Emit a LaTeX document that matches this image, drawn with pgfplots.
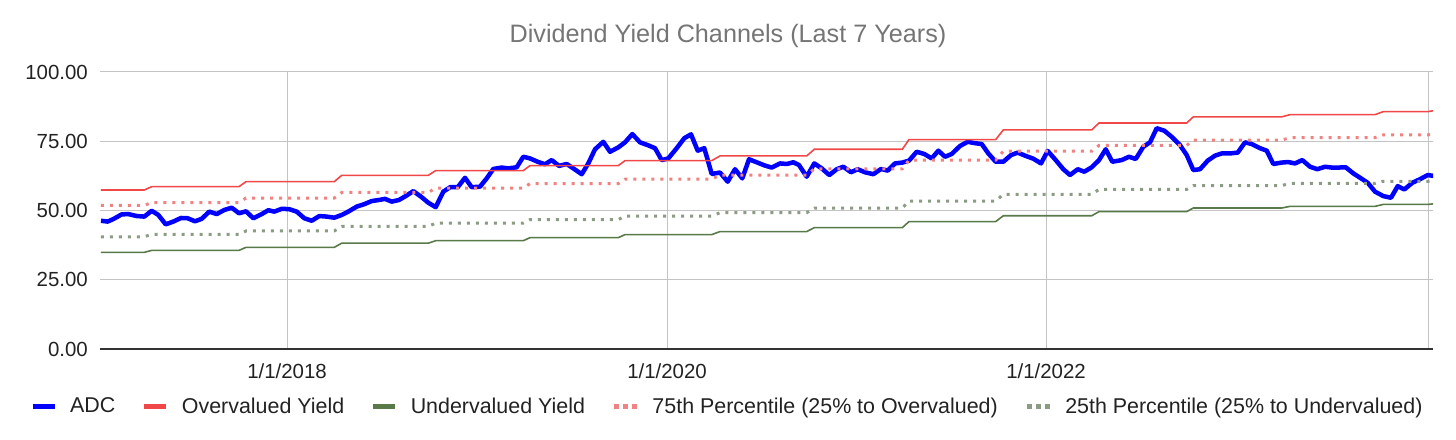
\documentclass[border=0pt]{standalone}
\usepackage{pgfplots}
\pgfplotsset{compat=1.18}
\usepackage{pgfplotstable}
\usepackage{fontspec}
\setmainfont{Liberation Sans}
\definecolor{adcblue}{HTML}{0000FF}
\definecolor{overred}{HTML}{F04848}
\definecolor{pinkred}{HTML}{F08282}
\definecolor{undergreen}{HTML}{587A48}
\definecolor{greengray}{HTML}{8C9C84}
\definecolor{gridgray}{HTML}{C4C4C4}
\definecolor{axisdark}{HTML}{333333}
\definecolor{textdark}{HTML}{222222}
\definecolor{titlegray}{HTML}{757575}

\pgfplotstableread{
px v
101 46.3
107.7 46.0
113.3 46.9
121.7 48.6
128.3 48.7
136.7 48.0
144.3 47.8
151.7 49.9
158.3 48.4
165.7 45.0
173.3 46.0
181 47.3
187.7 47.2
195 46.1
201.7 47.0
209.3 49.6
216.7 48.7
224.3 50.2
231.7 51.0
239 49.0
246 49.7
253.3 47.2
261.7 48.7
268.3 50.1
274.3 49.6
281.7 50.6
289 50.5
296.7 49.6
304.3 47.2
311.7 46.3
319.3 48.0
326.7 47.8
334.3 47.4
341.7 48.4
348.3 49.6
356.7 51.4
364.3 52.3
371.7 53.4
379 53.8
385 54.2
391.7 53.2
399 53.8
405.7 55.2
413.3 57.0
421 55.0
428.3 52.8
435.7 51.2
443.3 56.8
450 58.4
457.7 58.4
465 61.8
471.7 58.4
480 58.6
486.7 61.6
493.3 65.0
501.7 65.5
508.3 65.2
516.7 65.6
523.3 69.4
530 68.8
538.3 67.5
545 66.7
551.7 68.2
559 66.1
566.7 66.8
573.3 65.2
581.7 63.1
588.3 67.0
595 72.1
603.3 74.8
610 71.2
618.3 72.8
625 74.6
632.3 77.6
640 74.6
647.7 73.6
655 72.5
661.7 68.2
668.3 68.8
676.7 72.5
684.3 76.1
691 77.5
697.7 71.6
704.3 72.5
711.7 63.2
720 63.7
727.7 60.4
735 64.9
742.3 61.6
749 68.5
756.7 67.4
764.3 66.3
771.7 65.5
780 67.0
786.7 66.8
793.3 67.4
799 66.4
806.7 62.2
814.3 67.0
821.7 65.2
829.3 62.8
836.7 64.9
843.3 65.8
851 63.8
857.7 64.9
865 63.8
873.3 63.1
881 65.0
887.7 64.4
895 67.0
902.3 67.3
909 68.0
916.7 71.2
924.3 70.4
931.7 68.8
938.3 71.6
945 69.4
951.7 70.4
960 73.3
967.7 74.8
975 74.3
981.7 74.0
988.3 70.6
995.7 67.6
1003.3 67.6
1011 70.0
1017.7 70.9
1025.7 69.7
1033.3 68.7
1041 67.0
1047.7 71.5
1055.7 68.2
1063.3 64.9
1070 62.8
1077.7 64.9
1084.3 64.0
1091.7 65.6
1099 68.2
1105.7 72.1
1112.3 67.6
1121.7 68.2
1129 69.4
1135.7 68.6
1143.3 73.0
1150 74.6
1156.7 79.7
1164.3 78.8
1171.7 76.6
1180 73.6
1186.7 70.0
1193.3 64.6
1200 64.9
1207.7 68.0
1215 69.8
1221.7 70.6
1230 70.6
1237.7 70.9
1245 74.6
1251.7 74.0
1260 72.5
1266.7 71.6
1273.3 66.8
1281.7 67.3
1288 67.5
1295 67.0
1302.3 68.2
1310 65.8
1317.3 64.9
1325 65.8
1331.7 65.5
1338.3 65.5
1345.7 65.6
1353.3 63.4
1361 61.6
1367.7 60.0
1375 56.8
1383.3 55.2
1391 54.6
1397.7 58.8
1404.3 57.6
1412.3 60.0
1420 61.3
1427.7 62.8
1433.3 62.5
}\adcdata

\begin{document}
\begin{tikzpicture}
\path[use as bounding box] (-100bp,-91bp) rectangle (1356bp,349bp);
\begin{axis}[
  at={(0,0)}, anchor=south west,
  scale only axis, width=1333bp, height=277bp,
  xmin=100, xmax=1433, ymin=0, ymax=100,
  xtick={287,667,1046,1428},
  xticklabels={1/1/2018,1/1/2020,1/1/2022,{}},
  ytick={0,25,50,75,100},
  grid=major,
  grid style={draw=gridgray, line width=1bp},
  major tick length=0pt,
  tick style={draw=none},
  axis x line*=bottom, axis y line*=left,
  x axis line style={draw=axisdark, line width=2bp, -},
  y axis line style={draw=none, -},
  /pgf/number format/assume math mode=true,
  /pgf/number format/fixed,
  /pgf/number format/fixed zerofill,
  /pgf/number format/precision=2,
  scaled y ticks=false,
  ticklabel style={font=\fontsize{20.5}{24}\selectfont, text=textdark},
  yticklabel style={inner sep=0pt, anchor=east, xshift=-12bp},
  xticklabel style={inner sep=0pt, anchor=north, yshift=-14bp},
  title={Dividend Yield Channels (Last 7 Years)},
  title style={at={(axis description cs:0.4711,1.108)}, anchor=center,
    font=\fontsize{25.3}{29}\selectfont, text=titlegray, inner sep=0pt},
  legend columns=5,
  legend cell align=left,
  legend style={at={(axis description cs:-0.0525,-0.2058)}, anchor=west,
    draw=none, fill=none, inner sep=0pt,
    font=\fontsize{21.5}{25}\selectfont, text=textdark,
    nodes={inner sep=0pt},
    /tikz/every odd column/.append style={column sep=13bp},
    /tikz/every even column/.append style={column sep=26.5bp}},
]
\addplot[adcblue, line width=4.5bp, line join=round,
  legend image code/.code={\draw[adcblue, line width=5bp] (0bp,0bp) -- (22bp,0bp);}]
  table[x=px, y=v]{\adcdata};
\addlegendentry{ADC}

\addplot[overred, line width=1.6bp,
  legend image code/.code={\draw[overred, line width=5bp] (0bp,0bp) -- (22bp,0bp);}]
  coordinates {(101,57.4)(144.3,57.4)(151.7,58.6)(239,58.6)(246,60.4)(334.3,60.4)(341.7,62.7)(428.3,62.7)(435.7,64.4)(523.3,64.4)(530,66.2)(618.3,66.2)(625,68.0)(711.7,68.0)(720,69.7)(806.7,69.7)(814.3,72.1)(902.3,72.1)(909,75.6)(995.7,75.6)(1003.3,79.1)(1091.7,79.1)(1099,81.6)(1186.7,81.6)(1193.3,83.8)(1281.7,83.8)(1290,84.6)(1375,84.6)(1383.3,85.7)(1427.7,85.7)(1433.3,86.0)};
\addlegendentry{Overvalued Yield}

\addplot[undergreen, line width=1.6bp,
  legend image code/.code={\draw[undergreen, line width=5bp] (0bp,0bp) -- (22bp,0bp);}]
  coordinates {(101,34.9)(144.3,34.9)(151.7,35.6)(239,35.6)(246,36.7)(334.3,36.7)(341.7,38.2)(428.3,38.2)(435.7,39.1)(523.3,39.1)(530,40.2)(618.3,40.2)(625,41.3)(711.7,41.3)(720,42.4)(806.7,42.4)(814.3,43.8)(902.3,43.8)(909,46.0)(995.7,46.0)(1003.3,48.1)(1091.7,48.1)(1099,49.6)(1186.7,49.6)(1193.3,50.9)(1281.7,50.9)(1290,51.5)(1375,51.5)(1383.3,52.2)(1427.7,52.2)(1433.3,52.4)};
\addlegendentry{Undervalued Yield}

\addplot[pinkred, line width=3bp, dash pattern=on 3bp off 6bp,
  legend image code/.code={\draw[pinkred, line width=5bp, dash pattern=on 5bp off 4bp] (0bp,0bp) -- (23bp,0bp);}]
  coordinates {(101,51.85)(144.3,51.85)(151.7,52.85)(239,52.85)(246,54.5)(334.3,54.5)(341.7,56.5)(428.3,56.5)(435.7,58.1)(523.3,58.1)(530,59.7)(618.3,59.7)(625,61.3)(711.7,61.3)(720,62.8)(806.7,62.8)(814.3,65.0)(902.3,65.0)(909,68.2)(995.7,68.2)(1003.3,71.4)(1091.7,71.4)(1099,73.5)(1186.7,73.5)(1193.3,75.4)(1281.7,75.4)(1290,76.3)(1375,76.3)(1383.3,77.3)(1427.7,77.3)(1433.3,77.5)};
\addlegendentry{75th Percentile (25\% to Overvalued)}

\addplot[greengray, line width=3bp, dash pattern=on 3bp off 6bp,
  legend image code/.code={\draw[greengray, line width=5bp, dash pattern=on 5bp off 4bp] (0bp,0bp) -- (23bp,0bp);}]
  coordinates {(101,40.5)(144.3,40.5)(151.7,41.4)(239,41.4)(246,42.6)(334.3,42.6)(341.7,44.25)(428.3,44.25)(435.7,45.45)(523.3,45.45)(530,46.7)(618.3,46.7)(625,48.0)(711.7,48.0)(720,49.2)(806.7,49.2)(814.3,50.85)(902.3,50.85)(909,53.4)(995.7,53.4)(1003.3,55.85)(1091.7,55.85)(1099,57.6)(1186.7,57.6)(1193.3,59.0)(1281.7,59.0)(1290,59.8)(1375,59.8)(1383.3,60.55)(1427.7,60.55)(1433.3,60.7)};
\addlegendentry{25th Percentile (25\% to Undervalued)}
\end{axis}
\end{tikzpicture}
\end{document}
